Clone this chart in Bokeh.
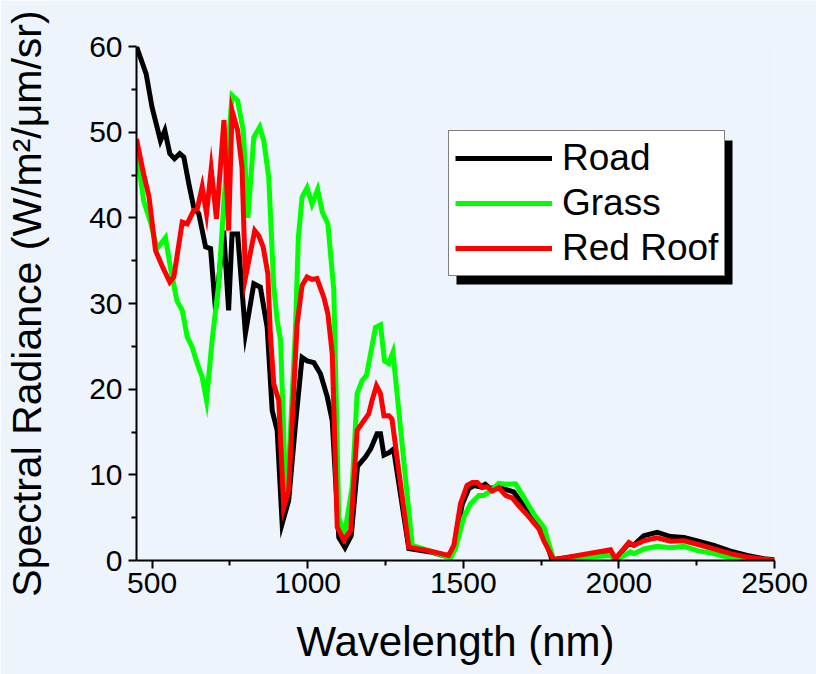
from bokeh.plotting import figure
from bokeh.models import (ColumnDataSource, Legend, LegendItem, FixedTicker,
                          BoxAnnotation, Range1d)
from bokeh.embed import file_html
from bokeh.resources import INLINE

# ---------------- data ----------------
road_nm = [450, 481, 500, 527, 541, 557, 572, 589, 602, 618, 634, 650, 672, 688,
           704, 730, 746, 757, 775, 800, 827, 848, 870, 886, 902, 918, 939, 961,
           982, 998, 1020, 1041, 1063, 1079, 1100, 1120, 1140, 1160, 1186, 1202,
           1223, 1234, 1245, 1262, 1276, 1325, 1395, 1453, 1470, 1497, 1518, 1534,
           1555, 1571, 1587, 1609, 1641, 1662, 1694, 1727, 1754, 1785, 1973, 1989,
           2032, 2048, 2080, 2123, 2166, 2209, 2252, 2305, 2359, 2412, 2466, 2500]
road_val = [60.0, 56.8, 52.9, 49.0, 50.2, 47.5, 46.9, 47.5, 47.1, 44.0, 41.2, 40.5,
            36.6, 36.4, 29.2, 38.5, 29.2, 38.1, 38.1, 26.5, 32.3, 31.9, 27.2, 17.5,
            15.2, 4.3, 7.0, 16.0, 23.7, 23.3, 23.1, 21.8, 19.1, 16.3, 2.7, 1.5, 2.9,
            11.0, 12.1, 13.0, 14.8, 14.8, 12.3, 12.6, 13.0, 1.4, 1.0, 0.4, 1.6, 6.6,
            8.4, 8.75, 8.6, 8.9, 8.4, 8.6, 8.25, 8.0, 6.4, 4.9, 3.5, 0.1, 1.0, 0.2,
            2.0, 1.8, 2.9, 3.3, 2.8, 2.7, 2.3, 1.75, 1.1, 0.6, 0.2, 0.1]

grass_nm = [450, 473, 495, 516, 543, 559, 580, 597, 613, 629, 645, 661, 675, 693,
            714, 731, 757, 775, 793, 808, 827, 846, 859, 875, 891, 902, 913, 929,
            939, 961, 970, 982, 998, 1014, 1032, 1047, 1065, 1084, 1100, 1118, 1143,
            1159, 1175, 1189, 1218, 1234, 1247, 1261, 1274, 1336, 1395, 1459, 1475,
            1502, 1523, 1550, 1566, 1587, 1614, 1636, 1668, 1694, 1727, 1759, 1791,
            1973, 1989, 2037, 2048, 2080, 2123, 2166, 2209, 2252, 2305, 2359, 2412,
            2466, 2500]
grass_val = [48.0, 42.0, 39.5, 36.4, 37.7, 34.2, 30.3, 29.2, 26.1, 24.9, 23.0, 21.4,
             18.7, 25.7, 32.3, 42.0, 54.3, 53.7, 50.2, 40.0, 49.4, 50.6, 49.0, 44.7,
             32.0, 28.0, 25.7, 8.2, 10.9, 27.2, 37.7, 42.4, 43.5, 41.6, 43.3, 40.7,
             39.3, 31.5, 5.0, 3.0, 8.6, 19.5, 21.0, 21.6, 27.2, 27.5, 23.3, 23.0, 24.3,
             1.75, 1.1, 0.3, 1.4, 5.1, 6.6, 7.6, 7.6, 8.1, 9.0, 8.9, 8.95, 7.4, 5.4,
             3.9, 0.0, 0.6, 0.05, 1.0, 0.8, 1.35, 1.65, 1.5, 1.65, 1.15, 0.8, 0.3,
             0.05, 0.0, 0.0]

roof_nm = [450, 473, 490, 511, 532, 557, 570, 597, 613, 634, 645, 661, 675, 690,
           707, 731, 746, 757, 775, 789, 800, 830, 843, 857, 872, 880, 891, 907,
           923, 939, 966, 982, 998, 1014, 1030, 1052, 1065, 1079, 1095, 1116, 1138,
           1159, 1180, 1196, 1207, 1221, 1234, 1245, 1261, 1271, 1325, 1395, 1453,
           1470, 1491, 1512, 1529, 1545, 1561, 1577, 1593, 1614, 1636, 1657, 1678,
           1711, 1743, 1759, 1790, 1973, 1989, 2032, 2048, 2080, 2102, 2123, 2166,
           2209, 2252, 2305, 2359, 2412, 2466, 2500]
roof_val = [49.2, 45.1, 42.5, 36.2, 34.4, 32.5, 33.1, 39.5, 39.3, 40.9, 41.0, 43.6,
            40.5, 45.7, 39.9, 51.4, 38.5, 52.5, 50.2, 45.9, 33.0, 38.5, 37.9, 36.6,
            33.5, 26.5, 20.6, 18.7, 6.2, 8.2, 27.6, 32.1, 33.1, 32.8, 32.9, 30.7,
            28.8, 24.1, 3.9, 2.4, 3.5, 15.2, 16.3, 17.1, 18.7, 20.4, 19.5, 16.9, 16.9,
            16.5, 1.55, 1.1, 0.6, 1.8, 6.6, 8.75, 9.1, 9.1, 8.5, 8.6, 8.1, 8.5, 7.6,
            7.3, 6.4, 5.1, 3.7, 2.3, 0.1, 1.25, 0.2, 2.1, 1.75, 2.3, 2.5, 2.65, 2.25,
            2.3, 1.9, 1.35, 0.8, 0.4, 0.15, 0.05]

series_names = ["Road", "Grass", "Red Roof"]
series_colors = ["#000000", "#00ff00", "#ff0000"]

x_ticks = [500, 1000, 1500, 2000, 2500]
x_minor = [750, 1250, 1750, 2250]
y_ticks = [0, 10, 20, 30, 40, 50, 60]
y_minor = [5, 15, 25, 35, 45, 55]

X0, X1 = 450, 2500
Y0, Y1 = 0, 60

# ---------------- layout ----------------
W, H = 816, 674
FL, FT, FR, FB = 136, 46, 42, 114
FW, FH = W - FL - FR, H - FT - FB
BG = "#edf4fc"
FONT = "Liberation Sans"

p = figure(width=W, height=H, output_backend="svg", toolbar_location=None,
           x_range=Range1d(X0, X1), y_range=Range1d(Y0, Y1),
           min_border_left=FL, min_border_right=FR, min_border_top=FT,
           min_border_bottom=FB)
p.background_fill_color = BG
p.border_fill_color = BG
p.outline_line_color = None
p.xgrid.visible = False
p.ygrid.visible = False

for ax, lab, maj, mnr in ((p.xaxis[0], "Wavelength (nm)", x_ticks, x_minor),
                          (p.yaxis[0], "Spectral Radiance (W/m\u00b2/\u03bcm/sr)", y_ticks, y_minor)):
    ax.ticker = FixedTicker(ticks=maj, minor_ticks=mnr)
    ax.axis_label = lab
    ax.axis_label_text_font = FONT
    ax.axis_label_text_font_style = "normal"
    ax.axis_label_text_color = "black"
    ax.major_label_text_font = FONT
    ax.major_label_text_font_size = "30px"
    ax.major_label_text_color = "black"
    ax.axis_line_width = 2
    ax.axis_line_color = "black"
    ax.major_tick_line_width = 2
    ax.minor_tick_line_width = 2
    ax.major_tick_out = 8
    ax.major_tick_in = 0
    ax.minor_tick_out = 5
    ax.minor_tick_in = 0

p.xaxis[0].axis_label_text_font_size = "42px"
p.yaxis[0].axis_label_text_font_size = "41px"
p.xaxis[0].major_label_standoff = 4
p.yaxis[0].major_label_standoff = 6
p.xaxis[0].axis_label_standoff = 22
p.yaxis[0].axis_label_standoff = 36

renderers = []
for nm, val, color in ((road_nm, road_val, series_colors[0]),
                       (grass_nm, grass_val, series_colors[1]),
                       (roof_nm, roof_val, series_colors[2])):
    src = ColumnDataSource(dict(x=nm, y=val))
    r = p.line("x", "y", source=src, line_color=color, line_width=5,
               line_join="miter")
    renderers.append(r)

# legend (with drop shadow)
LG_L, LG_T = 448, 132
PAD, SPACING, ROW = 6, 3, 42
LG_W = 276
LG_H = 2 * PAD + 3 * ROW + 2 * SPACING
SH = 8

def dx(px):
    return X0 + (px - FL) / FW * (X1 - X0)

def dy(py):
    return Y0 + (FT + FH - py) / FH * (Y1 - Y0)

shadow = BoxAnnotation(left=dx(LG_L + SH), right=dx(LG_L + LG_W + SH),
                       top=dy(LG_T + SH), bottom=dy(LG_T + LG_H + SH),
                       fill_color="black", fill_alpha=1, line_color=None)
p.add_layout(shadow)

legend = Legend(items=[LegendItem(label=n, renderers=[r])
                       for n, r in zip(series_names, renderers)],
                location=(LG_L - FL, FT + FH - (LG_T + LG_H)),
                border_line_color="black", border_line_width=1.5,
                background_fill_color="white", background_fill_alpha=1,
                label_text_font=FONT, label_text_font_size="37px",
                label_text_color="black",
                glyph_width=97, glyph_height=ROW, label_height=ROW,
                label_standoff=10, padding=PAD, spacing=SPACING, margin=0)
p.add_layout(legend)

open("out.html", "w").write(file_html(p, INLINE))
